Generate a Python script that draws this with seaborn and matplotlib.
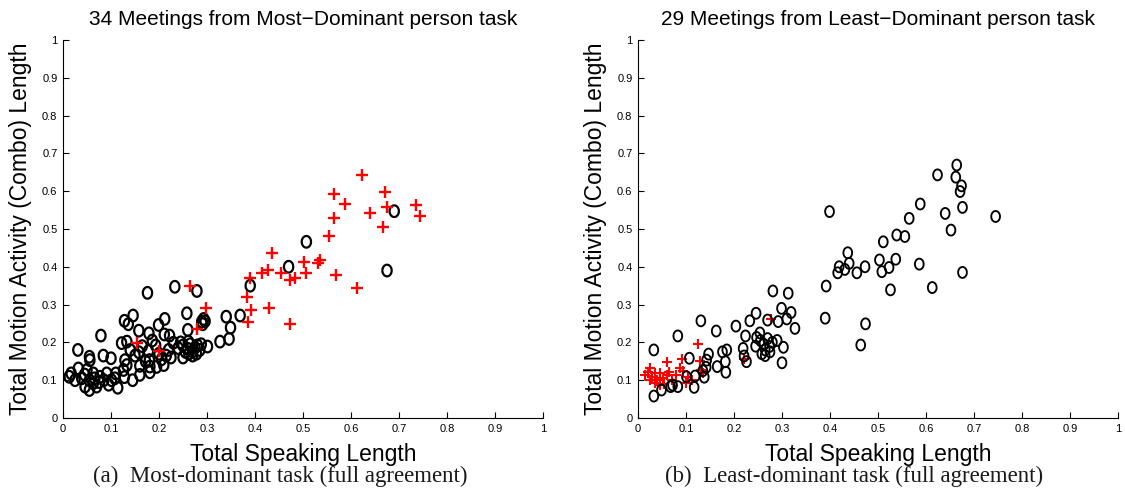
import numpy as np
import pandas as pd
import matplotlib
matplotlib.use("Agg")
import matplotlib.pyplot as plt
from matplotlib.path import Path
import seaborn as sns

# ---- Most-dominant person task: other participants (circles) ----
most_other_x = [0.690, 0.675, 0.507, 0.470, 0.390, 0.233, 0.279, 0.176,
                0.369, 0.340, 0.349, 0.346, 0.327, 0.301, 0.258, 0.212, 0.199, 0.289, 0.293, 0.291,
                0.296, 0.146, 0.128, 0.136, 0.158, 0.179, 0.079, 0.211, 0.222, 0.260, 0.261, 0.230,
                0.122, 0.133, 0.158, 0.178, 0.031, 0.055, 0.056, 0.084, 0.100, 0.129, 0.133, 0.126,
                0.110, 0.108, 0.114, 0.128, 0.160, 0.160, 0.180, 0.181, 0.181,
                0.017, 0.013, 0.032, 0.039, 0.046, 0.055, 0.063, 0.070, 0.063, 0.066, 0.077, 0.085,
                0.091, 0.101, 0.050, 0.025, 0.045, 0.095, 0.075, 0.055,
                0.240, 0.250, 0.255, 0.260, 0.265, 0.270, 0.275, 0.280, 0.285, 0.270, 0.250, 0.262,
                0.278, 0.245, 0.288,
                0.220, 0.215, 0.225, 0.200, 0.205, 0.193, 0.186, 0.172, 0.150, 0.140, 0.165, 0.210,
                0.195, 0.145]
most_other_y = [0.547, 0.390, 0.466, 0.400, 0.350, 0.347, 0.336, 0.331,
                0.271, 0.268, 0.239, 0.209, 0.202, 0.189, 0.277, 0.262, 0.246, 0.255, 0.262, 0.248,
                0.256, 0.271, 0.257, 0.248, 0.231, 0.224, 0.218, 0.221, 0.218, 0.233, 0.202, 0.199,
                0.198, 0.202, 0.174, 0.177, 0.180, 0.162, 0.153, 0.165, 0.158, 0.153, 0.140, 0.127,
                0.118, 0.105, 0.080, 0.108, 0.138, 0.114, 0.153, 0.136, 0.121,
                0.118, 0.109, 0.131, 0.105, 0.083, 0.074, 0.092, 0.083, 0.118, 0.105, 0.109, 0.100,
                0.118, 0.100, 0.127, 0.100, 0.115, 0.088, 0.095, 0.100,
                0.185, 0.192, 0.175, 0.183, 0.195, 0.176, 0.186, 0.192, 0.180, 0.165, 0.160, 0.170,
                0.170, 0.200, 0.195,
                0.180, 0.165, 0.160, 0.170, 0.155, 0.192, 0.205, 0.150, 0.165, 0.180, 0.190, 0.140,
                0.135, 0.100]

# ---- Most-dominant person task: annotated dominant person (crosses) ----
most_target_x = [0.623, 0.565, 0.671, 0.588, 0.735, 0.675, 0.640, 0.744, 0.565, 0.667,
                 0.554, 0.435, 0.535, 0.502, 0.531, 0.427, 0.415, 0.454, 0.506, 0.569,
                 0.483, 0.473, 0.390, 0.613, 0.383, 0.392, 0.429, 0.385, 0.473, 0.265,
                 0.298, 0.279, 0.154, 0.200]
most_target_y = [0.643, 0.593, 0.598, 0.566, 0.563, 0.558, 0.542, 0.534, 0.529, 0.505,
                 0.481, 0.437, 0.418, 0.413, 0.410, 0.392, 0.384, 0.384, 0.384, 0.378,
                 0.370, 0.365, 0.370, 0.344, 0.320, 0.286, 0.291, 0.254, 0.249, 0.349,
                 0.291, 0.235, 0.198, 0.177]

# ---- Least-dominant person task: other participants (circles) ----
least_other_x = [0.664, 0.624, 0.662, 0.674, 0.671, 0.588, 0.676, 0.640, 0.745, 0.565,
                 0.399, 0.652, 0.539, 0.556, 0.511, 0.437, 0.440, 0.419, 0.416, 0.431,
                 0.456, 0.473, 0.503, 0.508, 0.523, 0.537, 0.586, 0.676, 0.613, 0.526,
                 0.392, 0.390, 0.474, 0.464,
                 0.281, 0.313, 0.246, 0.299, 0.319, 0.233, 0.270, 0.292, 0.310, 0.327,
                 0.131, 0.163, 0.204, 0.083, 0.224, 0.247, 0.254, 0.262, 0.274, 0.303,
                 0.300, 0.219, 0.221, 0.226, 0.185, 0.176, 0.182, 0.183, 0.165, 0.147,
                 0.143, 0.142, 0.135, 0.138, 0.107, 0.119, 0.117, 0.101, 0.083, 0.072,
                 0.068, 0.049, 0.033, 0.033,
                 0.255, 0.265, 0.270, 0.280, 0.258, 0.275, 0.245, 0.290, 0.265]
least_other_y = [0.669, 0.643, 0.637, 0.614, 0.599, 0.566, 0.557, 0.541, 0.533, 0.528,
                 0.546, 0.497, 0.484, 0.480, 0.466, 0.437, 0.409, 0.400, 0.384, 0.393,
                 0.384, 0.400, 0.418, 0.387, 0.398, 0.420, 0.407, 0.385, 0.345, 0.339,
                 0.349, 0.264, 0.249, 0.193,
                 0.336, 0.330, 0.277, 0.290, 0.279, 0.257, 0.259, 0.255, 0.262, 0.237,
                 0.257, 0.230, 0.243, 0.217, 0.217, 0.213, 0.225, 0.195, 0.189, 0.187,
                 0.146, 0.184, 0.164, 0.149, 0.180, 0.175, 0.149, 0.121, 0.136, 0.169,
                 0.153, 0.134, 0.125, 0.108, 0.158, 0.111, 0.081, 0.109, 0.083, 0.087,
                 0.083, 0.074, 0.180, 0.058,
                 0.205, 0.180, 0.210, 0.200, 0.170, 0.175, 0.190, 0.205, 0.165]

# ---- Least-dominant person task: annotated least-dominant person (crosses) ----
least_target_x = [0.126, 0.060, 0.091, 0.129, 0.131, 0.135, 0.088, 0.094, 0.025, 0.015,
                  0.025, 0.035, 0.046, 0.053, 0.060, 0.070, 0.046, 0.035, 0.080, 0.101,
                  0.112, 0.020, 0.030, 0.040, 0.065, 0.055, 0.278, 0.221, 0.105]
least_target_y = [0.195, 0.148, 0.155, 0.150, 0.127, 0.118, 0.131, 0.125, 0.131, 0.114,
                  0.100, 0.118, 0.118, 0.105, 0.115, 0.100, 0.087, 0.092, 0.115, 0.092,
                  0.100, 0.122, 0.108, 0.100, 0.122, 0.090, 0.262, 0.157, 0.108]

titles = ["34 Meetings from Most\u2212Dominant person task",
          "29 Meetings from Least\u2212Dominant person task"]
captions = ["(a)  Most-dominant task (full agreement)",
            "(b)  Least-dominant task (full agreement)"]
x_label = "Total Speaking Length"
y_label = "Total Motion Activity (Combo) Length"
tick_values = [0, 0.1, 0.2, 0.3, 0.4, 0.5, 0.6, 0.7, 0.8, 0.9, 1]
tick_labels = ["0", "0.1", "0.2", "0.3", "0.4", "0.5", "0.6", "0.7", "0.8", "0.9", "1"]

sns.set_style("ticks")
plt.rcParams["font.family"] = ["Liberation Sans", "DejaVu Sans"]
plt.rcParams["text.color"] = "black"
plt.rcParams["axes.labelcolor"] = "black"

# slightly tall open "o" marker
theta = np.linspace(0, 2 * np.pi, 64)
oval = Path(np.column_stack([0.8 * np.cos(theta), np.sin(theta)]))

fig = plt.figure(figsize=(11.25, 4.91), dpi=100)
ax_left = fig.add_axes([0.056, 0.1487, 0.4267, 0.770])
ax_right = fig.add_axes([0.5671, 0.1487, 0.4267, 0.770])

# subfigure caption centres (each caption sits under its whole sub-figure)
caption_x = [0.249, 0.759]

panels = [
    (ax_left, most_other_x, most_other_y, most_target_x, most_target_y, 70, 72, 1.6, 1.7, True),
    (ax_right, least_other_x, least_other_y, least_target_x, least_target_y, 62, 60, 1.35, 1.5, False),
]

for i, (ax, ox, oy, tx, ty, s_o, s_t, lw_o, lw_t, crosses_on_top) in enumerate(panels):
    others = pd.DataFrame({"speaking": ox, "motion": oy})
    targets = pd.DataFrame({"speaking": tx, "motion": ty})

    def draw_others(z):
        sns.scatterplot(data=others, x="speaking", y="motion", ax=ax, marker=oval, s=s_o,
                        facecolor="none", edgecolor="black", linewidth=lw_o, zorder=z,
                        legend=False)

    def draw_targets(z):
        sns.scatterplot(data=targets, x="speaking", y="motion", ax=ax, marker="+", s=s_t,
                        color="#ff0000", linewidth=lw_t, zorder=z, legend=False)

    if crosses_on_top:
        draw_others(2)
        draw_targets(3)
    else:
        draw_targets(2)
        draw_others(3)

    ax.set_xlim(0, 1)
    ax.set_ylim(0, 1)
    ax.set_xticks(tick_values)
    ax.set_xticklabels(tick_labels)
    ax.set_yticks(tick_values)
    ax.set_yticklabels(tick_labels)
    ax.tick_params(direction="in", length=4, width=0.8, labelsize=8, pad=4, colors="black")
    for side in ("top", "right"):
        ax.spines[side].set_visible(False)
    for side in ("left", "bottom"):
        ax.spines[side].set_linewidth(0.8)
        ax.spines[side].set_color("black")
    ax.set_xlabel(x_label, fontsize=16.5, labelpad=7, color="black")
    ax.set_ylabel(y_label, fontsize=16.5, labelpad=7, color="black")
    ax.set_title(titles[i], fontsize=15, pad=11, color="black")
    fig.text(caption_x[i], 0.030, captions[i], ha="center", va="center", color="#1a1a1a",
             fontsize=16.5, family=["Liberation Serif", "DejaVu Serif"])

fig.savefig("out.png", dpi=100, facecolor="white")
